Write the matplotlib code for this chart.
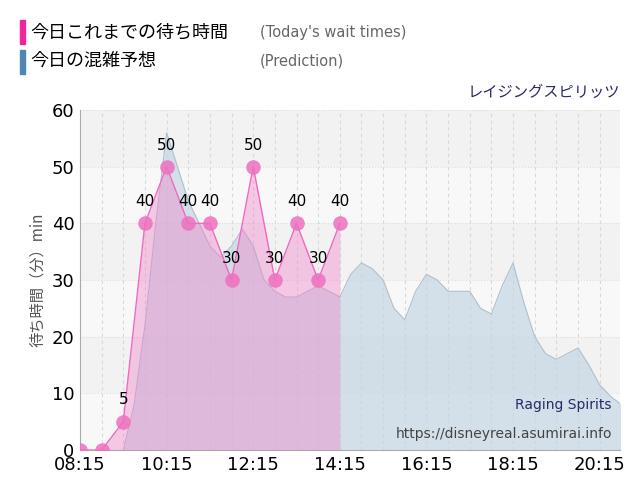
import matplotlib
matplotlib.use("Agg")
import matplotlib.pyplot as plt
from matplotlib.patches import Rectangle

plt.rcParams['font.family'] = ['Noto Sans CJK JP', 'DejaVu Sans']

# data (hours)
wait_t = [8.25, 8.75, 9.25, 9.75, 10.25, 10.75, 11.25, 11.75, 12.25, 12.75, 13.25, 13.75, 14.25]
wait_v = [0, 0, 5, 40, 50, 40, 40, 30, 50, 30, 40, 30, 40]
pred_t = [9.25, 9.5, 9.75, 10.0, 10.25, 10.5, 10.75, 11.0, 11.25, 11.5, 11.75, 12.0, 12.25, 12.5, 12.75,
          13.0, 13.25, 13.5, 13.75, 14.0, 14.25, 14.5, 14.75, 15.0, 15.25, 15.5, 15.75, 16.0, 16.25,
          16.5, 16.75, 17.0, 17.25, 17.5, 17.75, 18.0, 18.25, 18.5, 18.75, 19.0, 19.25, 19.5, 19.75,
          20.0, 20.25, 20.5, 20.75]
pred_v = [0, 8, 22, 40, 56, 50, 44, 40, 36, 34, 36, 39, 36, 30, 28,
          27, 27, 28, 29, 28, 27, 31, 33, 32, 30, 25, 23, 28, 31,
          30, 28, 28, 28, 25, 24, 29, 33, 26, 20, 17, 16, 17, 18,
          15, 11.5, 9.5, 8]
xtick_labels = ['08:15', '10:15', '12:15', '14:15', '16:15', '18:15', '20:15']

fig = plt.figure(figsize=(6.4, 5.0), dpi=100)
ax = fig.add_axes([80/640, 50/500, 540/640, 340/500])
x0, x1 = 8.25, 20.72
ax.set_xlim(x0, x1)
ax.set_ylim(0, 60)
for i, lo in enumerate(range(0, 60, 10)):
    ax.add_patch(Rectangle((x0, lo), x1 - x0, 10, color='#f2f2f2' if i % 2 else '#f8f8f8', zorder=0, lw=0))
ax.set_facecolor('white')
for y in range(10, 61, 10):
    ax.axhline(y, color='#dddddd', lw=0.8, ls=':', zorder=1)
t = 8.75
while t < x1:
    ax.axvline(t, color='#d8d8d8', lw=0.8, ls=(0, (3, 3)), zorder=1)
    t += 0.5

ax.fill_between(pred_t, pred_v, color='#c5d6e3', alpha=0.7, lw=0, zorder=2)
ax.plot(pred_t, pred_v, color='#b0c0cc', lw=0.8, zorder=2)
ax.fill_between(wait_t, wait_v, color='#f080c8', alpha=0.4, lw=0, zorder=3)
ax.plot(wait_t, wait_v, color='#f06ac0', lw=1, zorder=4)
ax.scatter(wait_t, wait_v, s=110, color='#ee70bf', alpha=0.85, zorder=5, lw=0)
for tt, vv in zip(wait_t, wait_v):
    if vv > 0:
        ax.text(tt, vv + 2.5, str(vv), ha='center', va='bottom', fontsize=11, family='DejaVu Sans', zorder=6)

ax.set_xticks([8.25 + 2 * i for i in range(7)])
ax.set_xticklabels(xtick_labels, fontsize=13, family='DejaVu Sans')
ax.set_yticks(range(0, 61, 10))
ax.set_yticklabels([str(v) for v in range(0, 61, 10)], fontsize=13, family='DejaVu Sans')
ax.tick_params(length=0, pad=4)
for s in ['top', 'right']:
    ax.spines[s].set_visible(False)
ax.spines['left'].set_color('#aaaaaa')
ax.spines['bottom'].set_color('#aaaaaa')
ax.set_ylabel('待ち時間（分）min', fontsize=11, color='#555555')

ax.text(0.985, 0.12, 'Raging Spirits', transform=ax.transAxes, ha='right', fontsize=10, color='#2a2a6a', family='DejaVu Sans')
ax.text(0.985, 0.035, 'https://disneyreal.asumirai.info', transform=ax.transAxes, ha='right', fontsize=10, color='#444444', family='DejaVu Sans')

fig.text(620/640, 1 - 92/500, 'レイジングスピリッツ', ha='right', va='center', fontsize=11, color='#2a2a6a')
fig.add_artist(Rectangle((20/640, 1 - 44/500), 5/640, 24/500, color='#f0259a', transform=fig.transFigure))
fig.add_artist(Rectangle((20/640, 1 - 74/500), 5/640, 24/500, color='#4f86b4', transform=fig.transFigure))
fig.text(30/640, 1 - 32/500, '今日これまでの待ち時間', va='center', fontsize=13)
fig.text(30/640, 1 - 61/500, '今日の混雑予想', va='center', fontsize=13)
fig.text(260/640, 1 - 32/500, "(Today's wait times)", va='center', fontsize=10.5, color='#666666', family='DejaVu Sans')
fig.text(260/640, 1 - 61/500, "(Prediction)", va='center', fontsize=10.5, color='#666666', family='DejaVu Sans')

fig.savefig('out.png', dpi=100)
